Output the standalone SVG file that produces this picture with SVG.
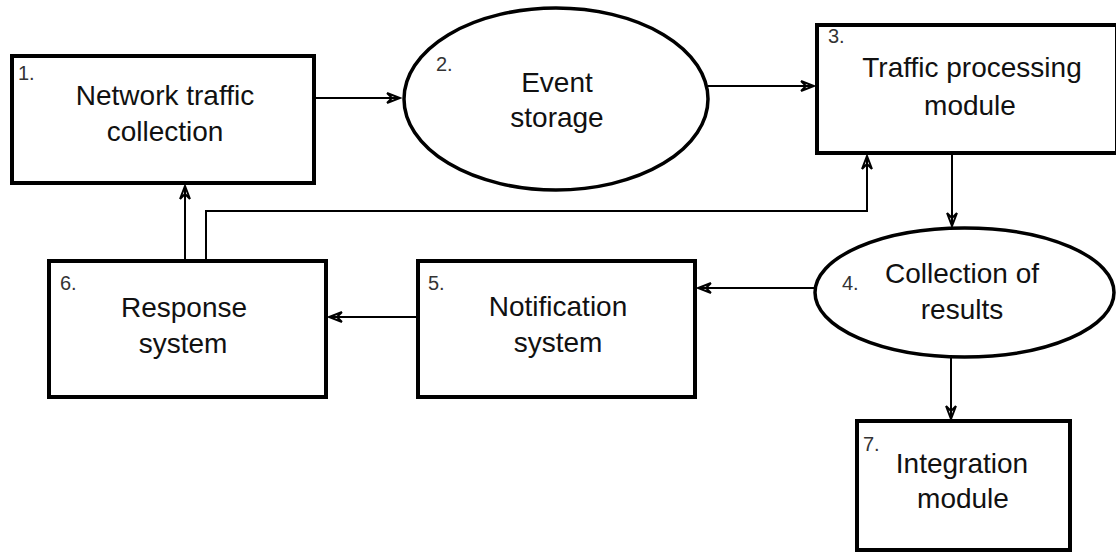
<svg xmlns="http://www.w3.org/2000/svg" width="1116" height="552" viewBox="0 0 1116 552">
<style>
.box{fill:#fff;stroke:#000;stroke-width:4}
.ell{fill:#fff;stroke:#000;stroke-width:3.5}
.lbl{font-family:"Liberation Sans",Arial,sans-serif;font-size:28px;fill:#111;text-anchor:middle}
.num{font-family:"Liberation Sans",Arial,sans-serif;font-size:20px;fill:#333}
.con{fill:none;stroke:#000;stroke-width:2}
</style>
<defs>
<marker id="arr" markerUnits="userSpaceOnUse" markerWidth="16" markerHeight="14" viewBox="-14 -7 16 14" refX="0" refY="0" orient="auto">
<path d="M-13,-5 L0,0 L-13,5 M-13,-5 L-8,0 L-13,5" fill="none" stroke="#000" stroke-width="2"/>
</marker>
</defs>
<rect width="1116" height="552" fill="#fff"/>
<g id="connectors">
<line class="con" x1="314" y1="98" x2="400" y2="98" marker-end="url(#arr)"/>
<line class="con" x1="708" y1="86" x2="814" y2="86" marker-end="url(#arr)"/>
<line class="con" x1="952" y1="153" x2="952" y2="226" marker-end="url(#arr)"/>
<line class="con" x1="815" y1="288" x2="698" y2="288" marker-end="url(#arr)"/>
<line class="con" x1="418" y1="317" x2="329" y2="317" marker-end="url(#arr)"/>
<line class="con" x1="185" y1="261" x2="185" y2="186" marker-end="url(#arr)"/>
<polyline class="con" points="206,261 206,211 867,211 867,156" marker-end="url(#arr)"/>
<line class="con" x1="951" y1="357" x2="951" y2="419" marker-end="url(#arr)"/>
</g>
<g id="node1">
<rect class="box" x="12" y="56" width="302" height="127"/>
<text class="num" x="18" y="80">1.</text>
<text class="lbl" x="165" y="105">Network traffic</text>
<text class="lbl" x="165" y="141">collection</text>
</g>
<g id="node2">
<ellipse class="ell" cx="556" cy="99" rx="152" ry="91"/>
<text class="num" x="436" y="71">2.</text>
<text class="lbl" x="557" y="92">Event</text>
<text class="lbl" x="557" y="127">storage</text>
</g>
<g id="node3">
<rect class="box" x="817" y="25" width="300" height="128"/>
<text class="num" x="828" y="43">3.</text>
<text class="lbl" x="972" y="77">Traffic processing</text>
<text class="lbl" x="970" y="115">module</text>
</g>
<g id="node4">
<ellipse class="ell" cx="964.5" cy="292.5" rx="149.5" ry="64.5"/>
<text class="num" x="842" y="290">4.</text>
<text class="lbl" x="962" y="283">Collection of</text>
<text class="lbl" x="962" y="319">results</text>
</g>
<g id="node5">
<rect class="box" x="418" y="261" width="277" height="136"/>
<text class="num" x="428" y="290">5.</text>
<text class="lbl" x="558" y="316">Notification</text>
<text class="lbl" x="558" y="352">system</text>
</g>
<g id="node6">
<rect class="box" x="49" y="261" width="277" height="136"/>
<text class="num" x="60" y="290">6.</text>
<text class="lbl" x="184" y="317">Response</text>
<text class="lbl" x="183" y="353">system</text>
</g>
<g id="node7">
<rect class="box" x="857" y="421" width="213" height="129"/>
<text class="num" x="863" y="451">7.</text>
<text class="lbl" x="962" y="473">Integration</text>
<text class="lbl" x="963" y="508">module</text>
</g>
</svg>
